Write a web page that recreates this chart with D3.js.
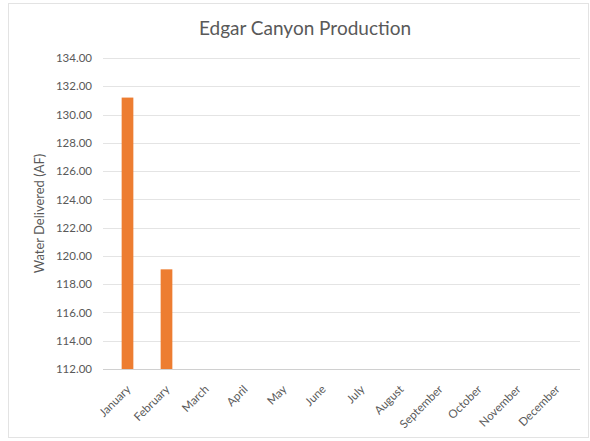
<!DOCTYPE html>
<html>
<head>
<meta charset="utf-8">
<script src="https://cdn.jsdelivr.net/npm/d3@7"></script>
<style>
  html, body { margin: 0; padding: 0; background: #fff; }
  svg { display: block; }
</style>
</head>
<body>
<svg id="chart" width="590" height="441"></svg>
<script>
// Monthly water delivered from Edgar Canyon (acre-feet)
const months = ["January", "February", "March", "April", "May", "June",
                "July", "August", "September", "October", "November", "December"];
const delivered = [131.2, 119.05, null, null, null, null, null, null, null, null, null, null];
const yTicks = [112, 114, 116, 118, 120, 122, 124, 126, 128, 130, 132, 134];

const svg = d3.select("#chart");
const font = "Lato, 'Open Sans', sans-serif";
const textColor = "#595959";

// chart frame
svg.append("rect")
  .attr("x", 8.5).attr("y", 3.5)
  .attr("width", 580).attr("height", 434)
  .attr("fill", "#fff")
  .attr("stroke", "#e3e3e3");

const plot = { left: 103, right: 580, top: 58, bottom: 369 };

const x = d3.scaleBand()
  .domain(months)
  .range([108, 576])
  .paddingInner(0.7)
  .paddingOuter(0.35);

const y = d3.scaleLinear()
  .domain([112, 134])
  .range([plot.bottom, plot.top]);

// horizontal gridlines
svg.append("g")
  .selectAll("line")
  .data(yTicks)
  .join("line")
  .attr("x1", plot.left).attr("x2", plot.right)
  .attr("y1", d => Math.round(y(d)) + 0.5)
  .attr("y2", d => Math.round(y(d)) + 0.5)
  .attr("stroke", d => d === 112 ? "#d0d0d0" : "#e4e4e4")
  .attr("stroke-width", 1);

// y axis labels
const yAxis = d3.axisLeft(y)
  .tickValues(yTicks)
  .tickFormat(d3.format(".2f"))
  .tickSize(0)
  .tickPadding(11);
const gy = svg.append("g")
  .attr("transform", `translate(${plot.left},0)`)
  .call(yAxis);
gy.select(".domain").remove();
gy.selectAll("text")
  .attr("fill", textColor)
  .style("font-family", font)
  .style("font-size", "11.5px");

// bars
const data = months.map((m, i) => ({ month: m, value: delivered[i] }))
  .filter(d => d.value != null);
svg.append("g")
  .selectAll("rect")
  .data(data)
  .join("rect")
  .attr("x", d => x(d.month))
  .attr("width", x.bandwidth())
  .attr("y", d => y(d.value))
  .attr("height", d => y(112) - y(d.value))
  .attr("fill", "#ed7d31");

// x axis labels, rotated
const xAxis = d3.axisBottom(x).tickSize(0).tickPadding(0);
const gx = svg.append("g")
  .attr("transform", `translate(0,${plot.bottom})`)
  .call(xAxis);
gx.select(".domain").remove();
gx.selectAll("text")
  .attr("fill", textColor)
  .style("font-family", font)
  .style("font-size", "11.5px")
  .attr("text-anchor", "end")
  .attr("dy", "0")
  .attr("transform", "translate(4,21) rotate(-45)");

// chart title
svg.append("text")
  .attr("x", 305).attr("y", 35)
  .attr("text-anchor", "middle")
  .attr("fill", textColor)
  .style("font-family", font)
  .style("font-size", "19px")
  .text("Edgar Canyon Production");

// y axis title
svg.append("text")
  .attr("transform", `translate(44,${(plot.top + plot.bottom) / 2}) rotate(-90)`)
  .attr("text-anchor", "middle")
  .attr("fill", textColor)
  .style("font-family", font)
  .style("font-size", "13px")
  .text("Water Delivered (AF)");
</script>
</body>
</html>
